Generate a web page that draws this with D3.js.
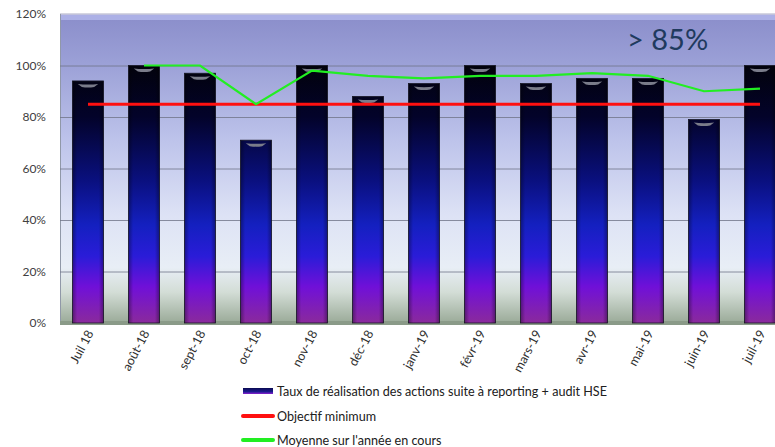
<!DOCTYPE html>
<html><head><meta charset="utf-8">
<script src="https://cdn.jsdelivr.net/npm/d3@7"></script>
<style>body{margin:0;background:#fff;} svg{display:block;font-family:Lato,"Open Sans",sans-serif;}</style>
</head><body>
<svg id="c" width="775" height="447"></svg>
<script>
const categories = ["Juil 18","août-18","sept-18","oct-18","nov-18","déc-18","janv-19","févr-19","mars-19","avr-19","mai-19","juin-19","juil-19"];
const tauxValues = [94,100,97,71,100,88,93,100,93,95,95,79,100];
const objectifValues = [85,85,85,85,85,85,85,85,85,85,85,85,85];
const moyenneValues = [null,100,100,85,98,96,95,96,96,97,96,90,91];
const yTicks = [0,20,40,60,80,100,120];
const legendLabels = ["Taux de réalisation des actions suite à reporting + audit HSE","Objectif minimum","Moyenne sur l'année en cours"];
const annotation = "> 85%";

const svg = d3.select("#c");
const L = 60, R = 788, T = 14, B = 323;
const x = d3.scaleBand().domain(categories).range([L, R]).paddingInner(0.446).paddingOuter(0.223);
const y = d3.scaleLinear().domain([0, 120]).range([B, T]);

const defs = svg.append("defs");
const wall = defs.append("linearGradient").attr("id","wall").attr("x1",0).attr("y1",0).attr("x2",0).attr("y2",1);
[[0,"#8a8dca"],[0.15,"#9a9fd6"],[0.4,"#bcc2ea"],[0.65,"#dde2f5"],[0.82,"#e8eef6"],[0.9,"#d3ddd6"],[1,"#9aaa98"]]
  .forEach(([o,c])=>wall.append("stop").attr("offset",o).attr("stop-color",c));
const barG = defs.append("linearGradient").attr("id","bar").attr("gradientUnits","userSpaceOnUse")
  .attr("x1",0).attr("y1",y(100)).attr("x2",0).attr("y2",B);
[[0,"#02020c"],[0.2,"#03032a"],[0.45,"#0a1080"],[0.62,"#1420c0"],[0.74,"#2a1cd8"],[0.86,"#7010d8"],[1,"#8a2a9c"]]
  .forEach(([o,c])=>barG.append("stop").attr("offset",o).attr("stop-color",c));
const sideG = defs.append("linearGradient").attr("id","side").attr("x1",0).attr("y1",0).attr("x2",1).attr("y2",0);
[[0,"rgba(0,0,0,0.35)"],[0.15,"rgba(0,0,0,0)"],[0.85,"rgba(0,0,0,0)"],[1,"rgba(0,0,0,0.35)"]]
  .forEach(([o,c])=>sideG.append("stop").attr("offset",o).attr("stop-color",c));
const legG = defs.append("linearGradient").attr("id","leg").attr("x1",0).attr("y1",0).attr("x2",0).attr("y2",1);
[[0,"#0a0a50"],[0.6,"#1a1a90"],[1,"#8a20d0"]].forEach(([o,c])=>legG.append("stop").attr("offset",o).attr("stop-color",c));

// wall
svg.append("rect").attr("x",L).attr("y",T).attr("width",R-L).attr("height",B-T).attr("fill","url(#wall)");
svg.append("rect").attr("x",L).attr("y",T).attr("width",R-L).attr("height",6).attr("fill","#b4b9ec").attr("opacity",0.8);
svg.append("line").attr("x1",L).attr("x2",R).attr("y1",T).attr("y2",T).attr("stroke","#c8c8d8").attr("stroke-width",1.5);
svg.append("line").attr("x1",L+0.5).attr("x2",L+0.5).attr("y1",T).attr("y2",B).attr("stroke","#9098a8").attr("stroke-width",1);
// floor
svg.append("rect").attr("x",L).attr("y",B-2).attr("width",R-L).attr("height",4).attr("fill","#8a9a88");

// gridlines
svg.append("g").selectAll("line").data(yTicks.filter(d=>d>0 && d<120)).join("line")
  .attr("x1",L).attr("x2",R).attr("y1",d=>y(d)+0.5).attr("y2",d=>y(d)+0.5)
  .attr("stroke","#707488").attr("stroke-width",0.8);

// bars
const bars = svg.append("g");
bars.selectAll("rect.b").data(categories).join("rect").attr("class","b")
  .attr("x",d=>x(d)).attr("width",x.bandwidth())
  .attr("y",(d,i)=>y(tauxValues[i])).attr("height",(d,i)=>B-y(tauxValues[i]))
  .attr("fill","url(#bar)").attr("stroke","#1a1a2a").attr("stroke-width",0.8);
bars.selectAll("rect.s").data(categories).join("rect").attr("class","s")
  .attr("x",d=>x(d)).attr("width",x.bandwidth())
  .attr("y",(d,i)=>y(tauxValues[i])).attr("height",(d,i)=>B-y(tauxValues[i]))
  .attr("fill","url(#side)");
bars.selectAll("path.cap").data(categories).join("path").attr("class","cap")
  .attr("d",(d,i)=>{const cx=x(d)+x.bandwidth()/2, ty=y(tauxValues[i])+3, w=x.bandwidth()*0.33;
    return `M${cx-w},${ty} Q${cx},${ty+1.2} ${cx+w},${ty} L${cx+w*0.6},${ty+3} Q${cx},${ty+4} ${cx-w*0.6},${ty+3} Z`;})
  .attr("fill","#7a7c8a");

// lines
const cx = d=>x(d)+x.bandwidth()/2;
svg.append("path").datum(categories)
  .attr("d",d3.line().x(d=>cx(d)).y((d,i)=>y(objectifValues[i])))
  .attr("fill","none").attr("stroke","#ff1010").attr("stroke-width",3);
svg.append("path").datum(categories)
  .attr("d",d3.line().defined((d,i)=>moyenneValues[i]!=null).x(d=>cx(d)).y((d,i)=>y(moyenneValues[i])))
  .attr("fill","none").attr("stroke","#22ee22").attr("stroke-width",2.2);

// y axis labels
svg.append("g").selectAll("text").data(yTicks).join("text")
  .attr("x",46).attr("y",d=>y(d)+4).attr("text-anchor","end")
  .attr("font-size",12).attr("fill","#404040").text(d=>d+"%");

// x labels
svg.append("g").selectAll("text").data(categories).join("text")
  .attr("transform",d=>`translate(${cx(d)+6},${333}) rotate(-62)`)
  .attr("text-anchor","end").attr("font-size",12.5).attr("fill","#303030").text(d=>d);

// annotation
svg.append("text").attr("x",627).attr("y",50).attr("font-size",29).attr("fill","#203a5e").text(annotation);

// legend
const leg = svg.append("g");
const ly = [391,416,440];
leg.append("rect").attr("x",243).attr("y",ly[0]-3).attr("width",30).attr("height",6).attr("fill","url(#leg)");
leg.append("line").attr("x1",243).attr("x2",273).attr("y1",ly[1]).attr("y2",ly[1]).attr("stroke","#ff1010").attr("stroke-width",4).attr("stroke-linecap","round");
leg.append("line").attr("x1",243).attr("x2",273).attr("y1",ly[2]).attr("y2",ly[2]).attr("stroke","#22ee22").attr("stroke-width",4).attr("stroke-linecap","round");
leg.selectAll("text").data(legendLabels).join("text")
  .attr("x",277).attr("y",(d,i)=>ly[i]+4.5).attr("font-size",12.6).attr("fill","#202020").text(d=>d);
</script>
</body></html>
